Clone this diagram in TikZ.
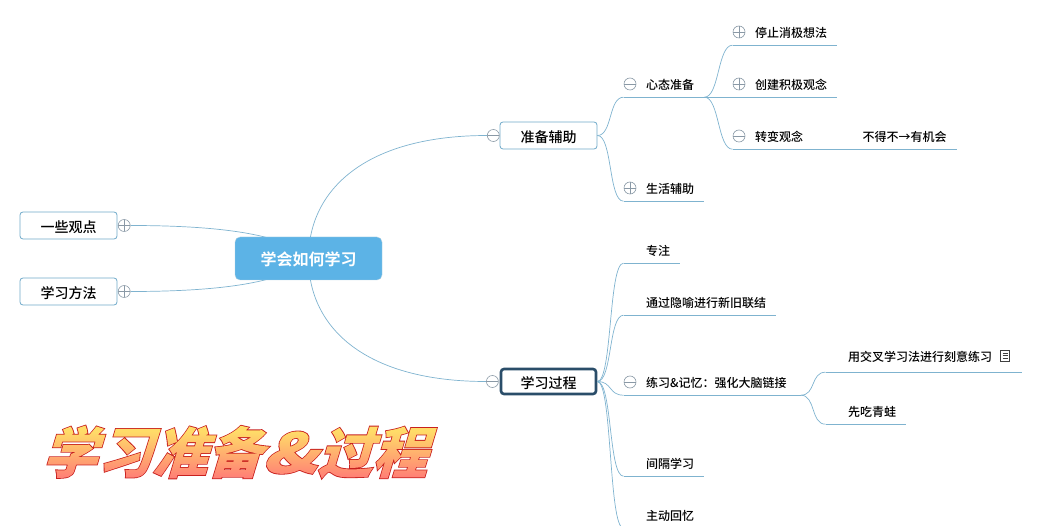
\documentclass[tikz,border=0pt]{standalone}
\usepackage{fontspec}
\setmainfont{Noto Sans CJK SC}[BoldFont={Noto Sans CJK SC Bold}]
\newfontfamily\medfont{Noto Sans CJK SC Medium}
\newfontfamily\titleedge[FakeBold=3]{Noto Sans CJK SC Black}
\newfontfamily\titlefill{Noto Sans CJK SC Black}
\newfontfamily\ampedge[FakeBold=3, FakeStretch=1.3]{Noto Sans CJK SC Black}
\newfontfamily\ampfill[FakeStretch=1.3]{Noto Sans CJK SC Black}
\usetikzlibrary{positioning, backgrounds}
\definecolor{linkblue}{HTML}{7FB3CF}
\definecolor{topicblue}{HTML}{6FA9C9}
\definecolor{foldgray}{HTML}{8A99A6}
\definecolor{centralblue}{HTML}{5CB3E6}
\definecolor{focusblue}{HTML}{2A4D69}
\definecolor{titletop}{HTML}{FFDC68}
\definecolor{titlebot}{HTML}{FF7C76}
\definecolor{titleline}{HTML}{C8201E}
\pgfdeclareverticalshading{titleshade}{480pt}{color(0pt)=(titlebot); color(8pt)=(titlebot); color(56pt)=(titletop); color(64pt)=(titletop)}
\tikzset{
    x=1pt, y=1pt,
    link/.style={draw=linkblue, line width=0.7pt}, % every connector
    branch/.style={link, out=0, in=180, distance=15pt}, % S-shaped connector between levels
    central/.style={rectangle, rounded corners=5pt, fill=centralblue, draw=linkblue!60, minimum width=147pt, minimum height=43pt, inner sep=0pt, text=white, text height=17pt, text depth=2pt, font=\bfseries\fontsize{16}{16}\selectfont},
    topic/.style={rectangle, rounded corners=3pt, fill=white, draw=topicblue, line width=0.8pt, minimum width=97pt, minimum height=27pt, inner sep=0pt, text height=16pt, text depth=2pt, font=\medfont\fontsize{14}{14}\selectfont},
    leaf/.style={rectangle, anchor=west, minimum height=26pt, inner sep=0pt, text height=12pt, text depth=1.6pt, font=\medfont\fontsize{12}{12}\selectfont, execute at begin node=\hspace*{22.5pt}, execute at end node=\hspace*{10pt}},
    foldmark/.style={circle, draw=foldgray, fill=white, line width=0.6pt, minimum size=12pt, inner sep=0pt},
    foldminus/.style={foldmark, path picture={\draw[foldgray] (path picture bounding box.west) -- (path picture bounding box.east);}},
    foldplus/.style={foldmark, path picture={\draw[foldgray] (path picture bounding box.west) -- (path picture bounding box.east) (path picture bounding box.north) -- (path picture bounding box.south);}},
    noteicon/.style={rectangle, draw=black!75, fill=white, line width=0.7pt, minimum width=9pt, minimum height=11pt, inner sep=0pt, path picture={\draw[black!75, line width=0.6pt] ([xshift=2pt,yshift=-3pt]path picture bounding box.north west) -- ++(5pt,0) ++(-5pt,-2.5pt) -- ++(5pt,0) ++(-5pt,-2.5pt) -- ++(5pt,0);}},
    titlestyle/.style={xslant=0.3, transform shape, inner sep=0pt},
}
\begin{document}
\begin{tikzpicture}
    \useasboundingbox (0,0) rectangle (1043,-526);
    % central topic and first level
    \node[central] (xhrh) at (308.5,-258.5) {学会如何学习};
    \node[topic] (yzgd) at (68.5,-225.5) {一些观点};
    \node[topic] (xxff) at (68.5,-291.5) {学习方法};
    \node[topic] (zbfz) at (548.5,-135.5) {准备辅助};
    \node[topic, draw=focusblue, line width=2.6pt, minimum width=95pt, minimum height=25pt] (xxgc) at (548.5,-381.5) {学习过程};
    \node[foldplus, right=0.5pt of yzgd] (fyzgd) {};
    \node[foldplus, right=0.5pt of xxff] (fxxff) {};
    \node[foldminus, left=0pt of zbfz] (fzbfz) {};
    \node[foldminus, left=1pt of xxgc] (fxxgc) {};
    % preparation branch
    \node[leaf] (xtzb) at (623.5,-84) {心态准备};
    \node[leaf] (shfz) at (623.5,-188) {生活辅助};
    \node[leaf] (tzxj) at (732.5,-32) {停止消极想法};
    \node[leaf] (cjjj) at (732.5,-84) {创建积极观念};
    \node[leaf] (zbgn) at (732.5,-136) {转变观念\hspace*{26.5pt}};
    \node[leaf, right=0pt of zbgn] (bdbd) {不得不→有机会};
    % process branch
    \node[leaf] (zz) at (623.5,-250) {专注};
    \node[leaf] (ysxl) at (623.5,-302) {通过隐喻进行新旧联结};
    \node[leaf, execute at end node=\hspace*{4pt}] (lxjy) at (623.5,-382) {练习\&记忆：强化大脑链接};
    \node[leaf] (jgxx) at (623.5,-463) {间隔学习};
    \node[leaf] (zdhy) at (623.5,-515) {主动回忆};
    \node[leaf, minimum height=32pt, execute at end node=\hspace*{20pt}] (jcxx) at (825.5,-356) {用交叉学习法进行刻意练习};
    \node[leaf] (xcqw) at (825.5,-411) {先吃青蛙};
    \node[noteicon] (note) at (1005,-355.5) {};
    % fold marks of the second and third level
    \foreach \n/\m in {xtzb/foldminus, shfz/foldplus, tzxj/foldplus, cjjj/foldplus, zbgn/foldminus, lxjy/foldminus}
        \node[\m] (f\n) at ([xshift=6.5pt]\n.west) {};
    % underlines
    \foreach \n in {xtzb, shfz, tzxj, cjjj, zbgn, bdbd, zz, ysxl, lxjy, jgxx, zdhy, jcxx, xcqw}
        \draw[link] (\n.south west) -- (\n.south east);
    % connectors
    \begin{scope}[on background layer]
        \draw[link] (fyzgd.east) .. controls +(80,0) and +(-23,26) .. (xhrh.center);
        \draw[link] (fxxff.east) .. controls +(80,0) and +(-23,-26) .. (xhrh.center);
        \draw[link] (fzbfz.west) .. controls +(-120,0) and +(0,70) .. (xhrh.center);
        \draw[link] (fxxgc.west) .. controls +(-120,0) and +(0,-70) .. (xhrh.center);
    \end{scope}
    \draw
    (zbfz.east) edge[branch] (xtzb.south west)
    (zbfz.east) edge[branch] (shfz.south west)
    (xtzb.south east) edge[branch] (tzxj.south west)
    (xtzb.south east) edge[branch] (cjjj.south west)
    (xtzb.south east) edge[branch] (zbgn.south west)
    (xxgc.east) edge[branch] (zz.south west)
    (xxgc.east) edge[branch] (ysxl.south west)
    (xxgc.east) edge[branch] (lxjy.south west)
    (xxgc.east) edge[branch] (jgxx.south west)
    (xxgc.east) edge[branch] (zdhy.south west)
    (lxjy.south east) edge[branch] (jcxx.south west)
    (lxjy.south east) edge[branch] (xcqw.south west);
    % title
    \node[titlestyle, text=titleline, font=\titleedge\fontsize{55}{55}\selectfont] (titleback) at (241,-452) {学习准备{\ampedge\&}过程};
    \node[titlestyle, font=\titlefill\fontsize{55}{55}\selectfont] (title) at (241,-452) {\special{pdf:code q 7 Tr}学习准备{\ampfill\&}过程\special{pdf:code 0 Tr}\rlap{\hspace{-440pt}\raisebox{-14pt}[0pt][0pt]{\pgfuseshading{titleshade}}}\special{pdf:code Q}};
\end{tikzpicture}
\end{document}
